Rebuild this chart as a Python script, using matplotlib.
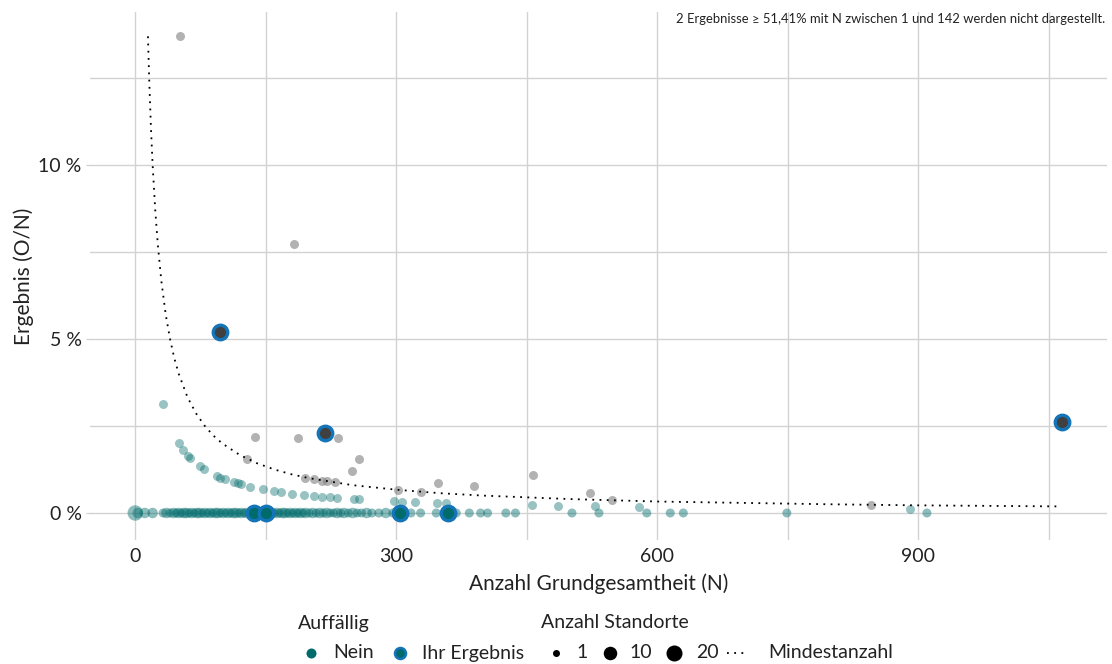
import numpy as np
import matplotlib
matplotlib.use("Agg")
import matplotlib.pyplot as plt
from matplotlib.ticker import FixedLocator, FuncFormatter

plt.rcParams['font.family'] = ['Lato', 'DejaVu Sans']

# --- data ---
# unauffaellig, ergebnis 0 %
nein0_N = [0, 3, 11, 20, 32, 36, 40, 44, 47, 50, 53, 56, 59, 62, 65, 68, 71, 74, 77, 80,
           83, 86, 89, 92, 95, 98, 101, 104, 107, 110, 113, 116, 119, 122, 125, 128, 131,
           140, 143, 146, 154, 157, 160, 163, 166, 169, 172, 175, 178, 181, 184, 187, 190,
           193, 196, 200, 204, 208, 212, 216, 220, 224, 228, 232, 236, 240, 245, 250, 255,
           260, 266, 272, 280, 288, 296, 317, 328, 346, 369, 384, 397, 405, 426, 437, 502,
           533, 588, 615, 630, 749, 910]
nein0_count = [12, 2, 2, 2, 1, 2, 1, 2, 1, 2, 1, 2, 2, 1, 2, 1, 2, 2, 1, 2,
               1, 2, 1, 2, 2, 1, 2, 1, 2, 1, 2, 2, 1, 2, 1, 2, 1,
               2, 1, 2, 1, 2, 1, 2, 1, 2, 2, 1, 2, 1, 2, 1, 2,
               1, 2, 1, 2, 1, 2, 1, 2, 1, 1, 2, 1, 2, 1, 2, 1,
               1, 2, 1, 1, 2, 1, 1, 1, 1, 1, 1, 1, 1, 1, 1, 1,
               1, 1, 1, 1, 1, 1]

# unauffaellig, ergebnis > 0 %
nein1_N = [32, 50, 55, 61, 63, 74, 79, 94, 98, 103, 114, 118, 122, 132, 147, 160, 168,
           180, 194, 205, 215, 224, 232, 252, 257, 297, 307, 322, 347, 357, 456, 486, 529,
           579, 890]
nein1_pct = [3.13, 2.0, 1.82, 1.64, 1.59, 1.35, 1.27, 1.06, 1.02, 0.97, 0.88, 0.85, 0.82,
             0.76, 0.68, 0.63, 0.60, 0.56, 0.52, 0.49, 0.47, 0.45, 0.43, 0.40, 0.39, 0.34,
             0.33, 0.31, 0.29, 0.28, 0.22, 0.21, 0.19, 0.17, 0.11]

# graue punkte
grau_N = [52, 182, 138, 187, 233, 128, 257, 249, 195, 206, 215, 220, 230, 302, 329, 348,
          389, 457, 523, 548, 846]
grau_pct = [13.72, 7.73, 2.19, 2.15, 2.15, 1.55, 1.55, 1.22, 1.01, 0.98, 0.93, 0.92, 0.88,
            0.66, 0.61, 0.87, 0.78, 1.10, 0.57, 0.36, 0.23]

# Ihr Ergebnis
ihr_N = [97, 218, 1065, 136, 150, 304, 359]
ihr_pct = [5.20, 2.31, 2.62, 0.0, 0.0, 0.0, 0.0]
ihr_grau = [True, True, True, False, False, False, False]

# Mindestanzahl
mind_N = [14.6, 16, 18, 20, 23, 26, 30, 35, 40, 45, 50, 60, 70, 80, 90, 100, 120, 140,
          160, 180, 200, 250, 300, 350, 400, 500, 600, 700, 800, 900, 1060]
mind_pct = [13.7, 12.5, 11.1, 10.0, 8.7, 7.7, 6.67, 5.71, 5.0, 4.44, 4.0, 3.33, 2.86, 2.5,
            2.22, 2.0, 1.67, 1.43, 1.25, 1.11, 1.0, 0.8, 0.67, 0.57, 0.5, 0.4, 0.33, 0.29,
            0.25, 0.22, 0.19]

note = "2 Ergebnisse \u2265 51,41% mit N zwischen 1 und 142 werden nicht dargestellt."

TEAL = '#006b6b'
GRAU = '#808080'
BLAU = '#1474b8'
DUNKEL = '#404040'
TXT = '#222222'


def size_of(count):
    # diameter in px -> marker area in pt^2
    d = np.interp(count, [1, 2, 10, 20], [9.0, 10.5, 15.0, 17.0]) / 1.389
    return d ** 2


def px(d):
    return (d / 1.389) ** 2


fig = plt.figure(figsize=(11.12, 6.64), dpi=100)
ax = fig.add_axes([90 / 1112, 1 - 540 / 664, 1017 / 1112, 528 / 664])

ax.set_xlim(-52, 1117)
ax.set_ylim(-0.776, 14.4)

ax.xaxis.set_major_locator(FixedLocator([0, 300, 600, 900]))
ax.xaxis.set_minor_locator(FixedLocator([150, 450, 750, 1050]))
ax.yaxis.set_major_locator(FixedLocator([0, 5, 10]))
ax.yaxis.set_minor_locator(FixedLocator([2.5, 7.5, 12.5]))
ax.yaxis.set_major_formatter(FuncFormatter(lambda v, p: '%d %%' % v))
ax.grid(True, which='both', color='#d2d2d2', lw=1.0)
ax.set_axisbelow(True)
for s in ax.spines.values():
    s.set_visible(False)
ax.tick_params(which='major', length=3, color='#cccccc', labelsize=14, labelcolor=TXT, pad=3)
ax.tick_params(which='minor', length=0)
ax.tick_params(axis='x', length=0, pad=6)

# points
ax.scatter(nein0_N, [0] * len(nein0_N), s=[size_of(c) for c in nein0_count],
           color=TEAL, alpha=0.45, lw=0, zorder=3)
ax.scatter(nein1_N, nein1_pct, s=size_of(1), color=TEAL, alpha=0.4, lw=0, zorder=3)
ax.scatter(grau_N, grau_pct, s=size_of(1), color=GRAU, alpha=0.6, lw=0, zorder=3)

ax.plot(mind_N, mind_pct, color='black', lw=1.3, ls=(0, (1, 3)), zorder=4)

for n, p, g in zip(ihr_N, ihr_pct, ihr_grau):
    ax.scatter([n], [p], s=px(14.5), facecolor=DUNKEL if g else TEAL,
               edgecolor=BLAU, lw=2.4, zorder=5)

ax.set_xlabel('Anzahl Grundgesamtheit (N)', fontsize=15, color=TXT, labelpad=6)
ax.set_ylabel('Ergebnis (O/N)', fontsize=15, color=TXT, labelpad=3)

fig.text(1105 / 1112, 1 - 19 / 664, note, ha='right', va='center', fontsize=9.4, color=TXT)

# legend
lg = fig.add_axes([0, 0, 1, 1], zorder=-1)
lg.set_xlim(0, 1112)
lg.set_ylim(664, 0)
lg.axis('off')
ty, iy = 623, 653
fs = 14
lg.text(298, ty, 'Auffällig', fontsize=fs, va='center', color=TXT)
lg.text(541, ty, 'Anzahl Standorte', fontsize=fs, va='center', color=TXT)
lg.scatter([311], [iy], s=px(10), color=TEAL, lw=0)
lg.text(333, iy, 'Nein', fontsize=fs, va='center', color=TXT)
lg.scatter([400], [iy], s=px(11), facecolor=TEAL, edgecolor=BLAU, lw=1.8)
lg.text(422, iy, 'Ihr Ergebnis', fontsize=fs, va='center', color=TXT)
for x, d, c, tx in [(556, 7, 1, 576), (610, 13.5, 10, 629), (674, 16, 20, 696)]:
    lg.scatter([x], [iy], s=px(d), color='black', lw=0)
    lg.text(tx, iy, str(c), fontsize=fs, va='center', color=TXT)
lg.plot([727, 745], [iy, iy], color='black', lw=1.3, ls=(0, (1, 3)))
lg.text(768, iy, 'Mindestanzahl', fontsize=fs, va='center', color=TXT)

fig.savefig('out.png', dpi=100)
